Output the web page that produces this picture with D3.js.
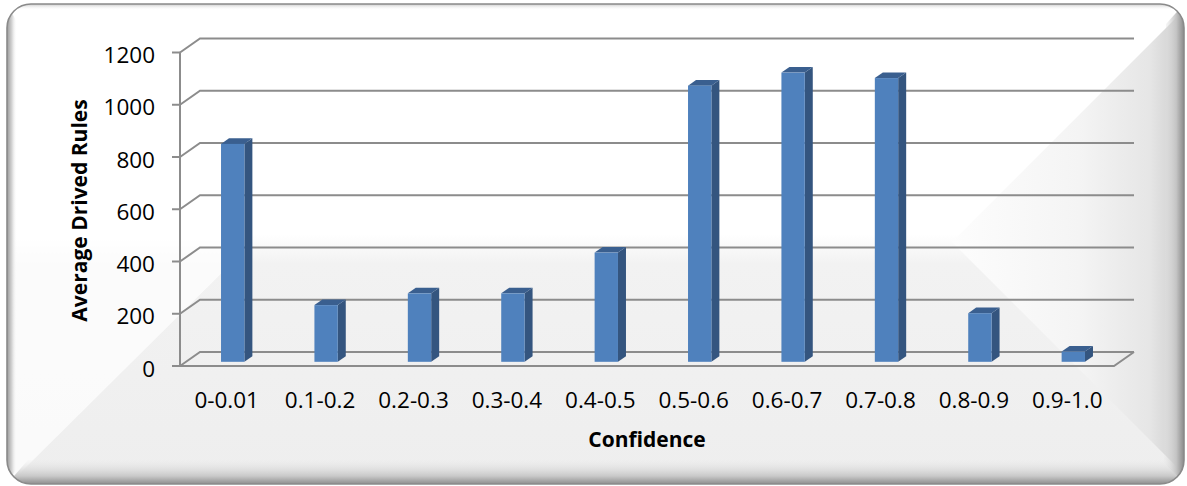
<!DOCTYPE html>
<html>
<head>
<meta charset="utf-8">
<script src="https://cdn.jsdelivr.net/npm/d3@7/dist/d3.min.js"></script>
<style>
  html, body { margin: 0; padding: 0; background: #ffffff; }
  svg { display: block; }
  text { font-family: "Open Sans", "Noto Sans", sans-serif; fill: #000; }
</style>
</head>
<body>
<svg id="chart" width="1187" height="486"></svg>
<script>
// Chart data
const categories = ["0-0.01", "0.1-0.2", "0.2-0.3", "0.3-0.4", "0.4-0.5",
                    "0.5-0.6", "0.6-0.7", "0.7-0.8", "0.8-0.9", "0.9-1.0"];
const values = [834, 217, 262, 262, 418, 1057, 1107, 1086, 186, 39];
const yTicks = [0, 200, 400, 600, 800, 1000, 1200];
const xTitle = "Confidence";
const yTitle = "Average Drived Rules";

const svg = d3.select("#chart");
const defs = svg.append("defs");

// ---- Frame (beveled rounded panel) ----
const frame = { x: 7, y: 4, w: 1177, h: 480, r: 24 };

defs.append("clipPath").attr("id", "frameClip")
  .append("rect")
  .attr("x", frame.x).attr("y", frame.y)
  .attr("width", frame.w).attr("height", frame.h)
  .attr("rx", frame.r).attr("ry", frame.r);

function linGrad(id, x1, y1, x2, y2, stops) {
  const g = defs.append("linearGradient").attr("id", id)
    .attr("gradientUnits", "userSpaceOnUse")
    .attr("x1", x1).attr("y1", y1).attr("x2", x2).attr("y2", y2);
  stops.forEach(s => g.append("stop")
    .attr("offset", s[0]).attr("stop-color", s[1])
    .attr("stop-opacity", s[2] === undefined ? 1 : s[2]));
}

linGrad("bgGrad", 0, 4, 0, 484, [[0, "#ffffff"], [0.48, "#ffffff"], [0.54, "#f2f2f2"], [1, "#eeeeee"]]);
linGrad("rightFacet", 952, 0, 1184, 0, [[0, "#fdfdfd"], [0.55, "#f4f4f4"], [0.85, "#e6e6e6"], [1, "#cbcbcb"]]);
linGrad("leftStrip", 7, 0, 17, 0, [[0, "#9a9a9a"], [0.5, "#d6d6d6"], [1, "#ffffff", 0]]);
linGrad("rightStrip", 1184, 0, 1162, 0, [[0, "#8a8a8a"], [0.35, "#c4c4c4"], [1, "#e8e8e8", 0]]);
linGrad("bottomStrip", 0, 484, 0, 458, [[0, "#8e8e8e"], [0.3, "#c8c8c8"], [1, "#eeeeee", 0]]);
linGrad("topStrip", 0, 4, 0, 10, [[0, "#c8c8c8"], [1, "#ffffff", 0]]);

const panel = svg.append("g").attr("clip-path", "url(#frameClip)");
panel.append("rect")
  .attr("x", frame.x).attr("y", frame.y)
  .attr("width", frame.w).attr("height", frame.h)
  .attr("fill", "url(#bgGrad)");

const poly = pts => "M" + pts.map(p => p.join(",")).join("L") + "Z";

// lighter left facet, shaded right facet
panel.append("path").attr("d", poly([[248, 247], [7, 6], [7, 486]]))
  .attr("fill", "#ffffff").attr("fill-opacity", 0.7);
panel.append("path").attr("d", poly([[952, 242], [1184, 10], [1184, 474]])).attr("fill", "url(#rightFacet)");
panel.append("path").attr("d", poly([[7, 4], [17, 22], [17, 468], [7, 484]])).attr("fill", "url(#leftStrip)");
panel.append("path").attr("d", poly([[1184, 4], [1184, 484], [1164, 462], [1166, 24]])).attr("fill", "url(#rightStrip)");
panel.append("path").attr("d", poly([[7, 484], [1184, 484], [1164, 460], [28, 460]])).attr("fill", "url(#bottomStrip)");
panel.append("rect").attr("x", 7).attr("y", 4).attr("width", 1177).attr("height", 8).attr("fill", "url(#topStrip)");

svg.append("rect")
  .attr("x", frame.x).attr("y", frame.y)
  .attr("width", frame.w).attr("height", frame.h)
  .attr("rx", frame.r).attr("ry", frame.r)
  .attr("fill", "none").attr("stroke", "#8a8a8a").attr("stroke-width", 1.6);

// ---- 3D plot ----
const plot = { left: 180, right: 1114, bottom: 366, top: 52.5 };
const depth = { dx: 20, dy: -14 };           // full floor depth offset
const barDepth = { d0: 0.3, d1: 0.7 };        // bar position within the depth

const x = d3.scaleBand().domain(categories)
  .range([plot.left, plot.right])
  .paddingInner(0.75).paddingOuter(0.375);
const y = d3.scaleLinear().domain([0, 1200]).range([plot.bottom, plot.top]);

const gridColor = "#8c8c8c";
const g = svg.append("g");

// Wall gridlines (side wall diagonal + back wall horizontal)
g.selectAll("path.grid").data(yTicks).join("path")
  .attr("class", "grid")
  .attr("d", t => `M${plot.left},${y(t)}L${plot.left + depth.dx},${y(t) + depth.dy}L${plot.right + depth.dx},${y(t) + depth.dy}`)
  .attr("fill", "none").attr("stroke", gridColor).attr("stroke-width", 2);

// Floor front and right edges
g.append("path")
  .attr("d", `M${plot.left},${y(0)}L${plot.right},${y(0)}L${plot.right + depth.dx},${y(0) + depth.dy}`)
  .attr("fill", "none").attr("stroke", gridColor).attr("stroke-width", 2);

// Vertical axis line and tick marks
g.append("path")
  .attr("d", `M${plot.left},${y(1200)}L${plot.left},${y(0)}`)
  .attr("stroke", gridColor).attr("stroke-width", 2);
g.selectAll("path.tick").data(yTicks).join("path")
  .attr("class", "tick")
  .attr("d", t => `M${plot.left - 8},${y(t)}L${plot.left},${y(t)}`)
  .attr("stroke", gridColor).attr("stroke-width", 2);

// Y tick labels
g.selectAll("text.ylab").data(yTicks).join("text")
  .attr("class", "ylab")
  .attr("x", 155).attr("y", t => y(t) + 10.5)
  .attr("text-anchor", "end")
  .attr("font-size", 22.5)
  .text(t => t);

// X tick labels
g.selectAll("text.xlab").data(categories).join("text")
  .attr("class", "xlab")
  .attr("x", c => x(c) + x.bandwidth() / 2)
  .attr("y", 408)
  .attr("text-anchor", "middle")
  .attr("font-size", 22.5)
  .text(c => c);

// Bars (front face, right side, top)
const bw = x.bandwidth();
const fx = depth.dx * barDepth.d0, fy = depth.dy * barDepth.d0;
const sx = depth.dx * (barDepth.d1 - barDepth.d0), sy = depth.dy * (barDepth.d1 - barDepth.d0);

const bars = g.selectAll("g.bar").data(categories.map((c, i) => ({ c, v: values[i] }))).join("g")
  .attr("class", "bar");

bars.append("path")
  .attr("d", d => {
    const x0 = x(d.c) + fx + bw, yt = y(d.v) + fy, yb = y(0) + fy;
    return poly([[x0, yb], [x0, yt], [x0 + sx, yt + sy], [x0 + sx, yb + sy]]);
  })
  .attr("fill", "#34557f");

bars.append("path")
  .attr("d", d => {
    const x0 = x(d.c) + fx, yt = y(d.v) + fy;
    return poly([[x0, yt], [x0 + bw, yt], [x0 + bw + sx, yt + sy], [x0 + sx, yt + sy]]);
  })
  .attr("fill", "#3a5f8f");

bars.append("rect")
  .attr("x", d => x(d.c) + fx)
  .attr("y", d => y(d.v) + fy)
  .attr("width", bw)
  .attr("height", d => y(0) - y(d.v))
  .attr("fill", "#4f81bd");

// Axis titles
g.append("text")
  .attr("x", (plot.left + plot.right) / 2)
  .attr("y", 447)
  .attr("text-anchor", "middle")
  .attr("font-size", 21)
  .attr("font-weight", "bold")
  .text(xTitle);

g.append("text")
  .attr("transform", "translate(87,210.5) rotate(-90)")
  .attr("text-anchor", "middle")
  .attr("font-size", 21)
  .attr("font-weight", "bold")
  .text(yTitle);
</script>
</body>
</html>
